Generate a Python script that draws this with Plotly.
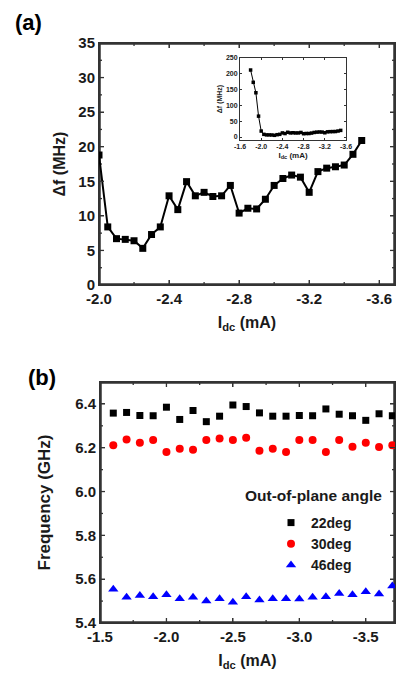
import plotly.graph_objects as go

# ---------------- data: panel (a) ----------------
current_a = [-2.0, -2.05, -2.1, -2.15, -2.2, -2.25, -2.3, -2.35, -2.4, -2.45, -2.5,
             -2.55, -2.6, -2.65, -2.7, -2.75, -2.8, -2.85, -2.9, -2.95, -3.0,
             -3.05, -3.1, -3.15, -3.2, -3.25, -3.3, -3.35, -3.4, -3.45, -3.5]
df_a = [18.8, 8.4, 6.7, 6.6, 6.4, 5.3, 7.3, 8.4, 12.9, 10.9, 14.95,
        12.9, 13.4, 12.8, 12.9, 14.4, 10.4, 11.1, 11.0, 12.4, 14.4,
        15.4, 15.9, 15.6, 13.4, 16.4, 16.9, 17.1, 17.35, 18.9, 20.9]
# inset: extra low-current points before -2.0 mA
inset_extra_current = [-1.8, -1.85, -1.9, -1.95]
inset_extra_df = [212, 173, 140, 66]

xa_tickvals = [-2.0, -2.4, -2.8, -3.2, -3.6]
xa_ticktext = ["-2.0", "-2.4", "-2.8", "-3.2", "-3.6"]
xa_minor = [-2.2, -2.6, -3.0, -3.4]
ya_tickvals = [0, 5, 10, 15, 20, 25, 30, 35]
ya_minor = [2.5, 7.5, 12.5, 17.5, 22.5, 27.5, 32.5]
inset_xtickvals = [-1.6, -2.0, -2.4, -2.8, -3.2, -3.6]
inset_xticktext = ["-1.6", "-2.0", "-2.4", "-2.8", "-3.2", "-3.6"]
inset_ytickvals = [0, 50, 100, 150, 200, 250]

# ---------------- data: panel (b) ----------------
current_b = [-1.6, -1.7, -1.8, -1.9, -2.0, -2.1, -2.2, -2.3, -2.4, -2.5, -2.6,
             -2.7, -2.8, -2.9, -3.0, -3.1, -3.2, -3.3, -3.4, -3.5, -3.6, -3.7]
freq_22 = [6.358, 6.361, 6.347, 6.346, 6.385, 6.329, 6.370, 6.319, 6.344, 6.395, 6.388,
           6.359, 6.344, 6.344, 6.347, 6.346, 6.377, 6.353, 6.346, 6.325, 6.355, 6.346]
freq_30 = [6.211, 6.238, 6.223, 6.235, 6.180, 6.195, 6.191, 6.235, 6.242, 6.235, 6.245,
           6.186, 6.195, 6.180, 6.235, 6.235, 6.180, 6.235, 6.204, 6.223, 6.203, 6.211]
freq_46 = [5.554, 5.518, 5.525, 5.520, 5.529, 5.511, 5.518, 5.500, 5.511, 5.495, 5.520,
           5.505, 5.511, 5.511, 5.509, 5.518, 5.520, 5.535, 5.529, 5.543, 5.532, 5.569]
series_names = ["22deg", "30deg", "46deg"]

xb_tickvals = [-1.5, -2.0, -2.5, -3.0, -3.5]
xb_ticktext = ["-1.5", "-2.0", "-2.5", "-3.0", "-3.5"]
xb_minor = [-1.75, -2.25, -2.75, -3.25]
yb_tickvals = [5.4, 5.6, 5.8, 6.0, 6.2, 6.4]
yb_ticktext = ["5.4", "5.6", "5.8", "6.0", "6.2", "6.4"]
yb_minor = [5.5, 5.7, 5.9, 6.1, 6.3]

# ---------------- figure ----------------
W, H = 399, 678
FONT = "Liberation Sans, Arial, sans-serif"
INK = "#1a1a1a"
LINE = "#333333"


def px_x(v):
    return v / W


def px_y(v):
    return 1 - v / H


xa_dom = [px_x(99), px_x(395)]
ya_dom = [px_y(285), px_y(43)]
xb_dom = [px_x(100), px_x(395)]
yb_dom = [px_y(623), px_y(382)]
xa_rng = [-2.0, -3.69]
ya_rng = [0, 35]
xb_rng = [-1.5, -3.72]
yb_rng = [5.4, 6.5]

fig = go.Figure()


def add_frame_and_ticks(xname, yname, xr, yr, dom_x, dom_y,
                        xmaj, xmin, ymaj, ymin):
    """Box frame + inside ticks built from the axis ranges and tick lists."""
    plot_w = (dom_x[1] - dom_x[0]) * W
    plot_h = (dom_y[1] - dom_y[0]) * H
    ux = (xr[1] - xr[0]) / plot_w     # data units per pixel (x)
    uy = (yr[1] - yr[0]) / plot_h     # data units per pixel (y)
    fig.add_trace(go.Scatter(
        x=[xr[0], xr[1], xr[1], xr[0], xr[0]],
        y=[yr[0], yr[0], yr[1], yr[1], yr[0]],
        mode="lines", line=dict(color=LINE, width=3.5),
        xaxis=xname, yaxis=yname, showlegend=False, hoverinfo="skip"))
    tx, ty = [], []
    for vals, L in ((xmaj, 5), (xmin, 3)):
        for v in vals:
            tx += [v, v, None, v, v, None]
            ty += [yr[0], yr[0] + L * uy, None, yr[1], yr[1] - L * uy, None]
    for vals, L in ((ymaj, 5), (ymin, 3)):
        for v in vals:
            tx += [xr[0], xr[0] + L * ux, None, xr[1], xr[1] - L * ux, None]
            ty += [v, v, None, v, v, None]
    fig.add_trace(go.Scatter(
        x=tx, y=ty, mode="lines", line=dict(color=LINE, width=1.3),
        xaxis=xname, yaxis=yname, showlegend=False, hoverinfo="skip"))


add_frame_and_ticks("x", "y", xa_rng, ya_rng, xa_dom, ya_dom,
                    xa_tickvals, xa_minor, ya_tickvals, ya_minor)
add_frame_and_ticks("x2", "y2", xb_rng, yb_rng, xb_dom, yb_dom,
                    xb_tickvals, xb_minor, yb_tickvals, yb_minor)

fig.add_trace(go.Scatter(
    x=current_a, y=df_a, mode="lines+markers",
    line=dict(color="black", width=2),
    marker=dict(symbol="square", size=7, color="black"),
    xaxis="x", yaxis="y", showlegend=False))

fig.add_trace(go.Scatter(
    x=inset_extra_current + current_a, y=inset_extra_df + df_a, mode="lines+markers",
    line=dict(color="black", width=1),
    marker=dict(symbol="square", size=3.5, color="black"),
    xaxis="x3", yaxis="y3", showlegend=False))

for name, vals, sym, col, sz in zip(
        series_names, [freq_22, freq_30, freq_46],
        ["square", "circle", "triangle-up"], ["black", "red", "blue"], [7, 8, 9]):
    fig.add_trace(go.Scatter(
        x=current_b, y=vals, mode="markers", name=name,
        marker=dict(symbol=sym, size=sz, color=col, line=dict(width=0)),
        xaxis="x2", yaxis="y2"))

tickfont = dict(family=FONT, size=15, color=INK, weight="bold")
titlefont = dict(family=FONT, size=16, color=INK, weight="bold")
small_tick = dict(family=FONT, size=7, color=INK, weight="bold")

common = dict(showline=True, linecolor=LINE, linewidth=1, mirror="ticks",
              ticks="inside", ticklen=5, tickcolor=LINE,
              showgrid=False, zeroline=False, automargin=False)

fig.update_layout(
    template="none",
    width=W, height=H,
    margin=dict(l=0, r=0, t=0, b=0, pad=0),
    paper_bgcolor="white", plot_bgcolor="white",
    xaxis=dict(domain=xa_dom, anchor="y",
               range=xa_rng, tickmode="array",
               tickvals=xa_tickvals, ticktext=xa_ticktext,
               tickfont=tickfont,
               title=dict(text="I<sub>dc</sub> (mA)", font=titlefont, standoff=10),
               **common),
    yaxis=dict(domain=ya_dom, anchor="x",
               range=ya_rng, tickmode="array", tickvals=ya_tickvals, tickfont=tickfont,
               title=dict(text="Δf (MHz)", font=titlefont, standoff=8),
               **common),
    xaxis2=dict(domain=xb_dom, anchor="y2",
                range=xb_rng, tickmode="array",
                tickvals=xb_tickvals, ticktext=xb_ticktext,
                tickfont=tickfont,
                title=dict(text="I<sub>dc</sub> (mA)", font=titlefont, standoff=10),
                **common),
    yaxis2=dict(domain=yb_dom, anchor="x2",
                range=yb_rng, tickmode="array",
                tickvals=yb_tickvals, ticktext=yb_ticktext,
                tickfont=tickfont,
                title=dict(text="Frequency (GHz)",
                           font=dict(family=FONT, size=17, color=INK, weight="bold"),
                           standoff=20),
                **common),
    xaxis3=dict(domain=[px_x(240), px_x(346)], anchor="y3",
                range=[-1.6, -3.6], tickmode="array",
                tickvals=inset_xtickvals, ticktext=inset_xticktext,
                tickfont=small_tick, automargin=False,
                title=dict(text="I<sub>dc</sub> (mA)", font=dict(family=FONT, size=8, color=INK, weight="bold"), standoff=2),
                showline=True, linecolor=LINE, linewidth=1, mirror="ticks",
                ticks="inside", ticklen=2, tickcolor=LINE, showgrid=False, zeroline=False),
    yaxis3=dict(domain=[px_y(140), px_y(58)], anchor="x3",
                range=[-9.5, 250], tickmode="array", tickvals=inset_ytickvals, tickfont=small_tick,
                automargin=False,
                title=dict(text="Δf (MHz)", font=dict(family=FONT, size=7, color=INK, weight="bold"), standoff=2),
                showline=True, linecolor=LINE, linewidth=1, mirror="ticks",
                ticks="inside", ticklen=2, tickcolor=LINE, showgrid=False, zeroline=False),
    legend=dict(x=px_x(271), y=px_y(507), xanchor="left", yanchor="top",
                bgcolor="rgba(0,0,0,0)", borderwidth=0,
                font=dict(family=FONT, size=14, color=INK, weight="bold"),
                tracegroupgap=0),
    annotations=[
        dict(text="(a)", x=px_x(28), y=px_y(23), xref="paper", yref="paper",
             showarrow=False, xanchor="center", yanchor="middle",
             font=dict(family=FONT, size=22, color="black", weight="bold")),
        dict(text="(b)", x=px_x(42), y=px_y(377), xref="paper", yref="paper",
             showarrow=False, xanchor="center", yanchor="middle",
             font=dict(family=FONT, size=22, color="black", weight="bold")),
        dict(text="Out-of-plane angle", x=px_x(243), y=px_y(495), xref="paper", yref="paper",
             showarrow=False, xanchor="left", yanchor="middle",
             font=dict(family=FONT, size=15.5, color=INK, weight="bold")),
    ],
)

fig.write_html("out.html")
